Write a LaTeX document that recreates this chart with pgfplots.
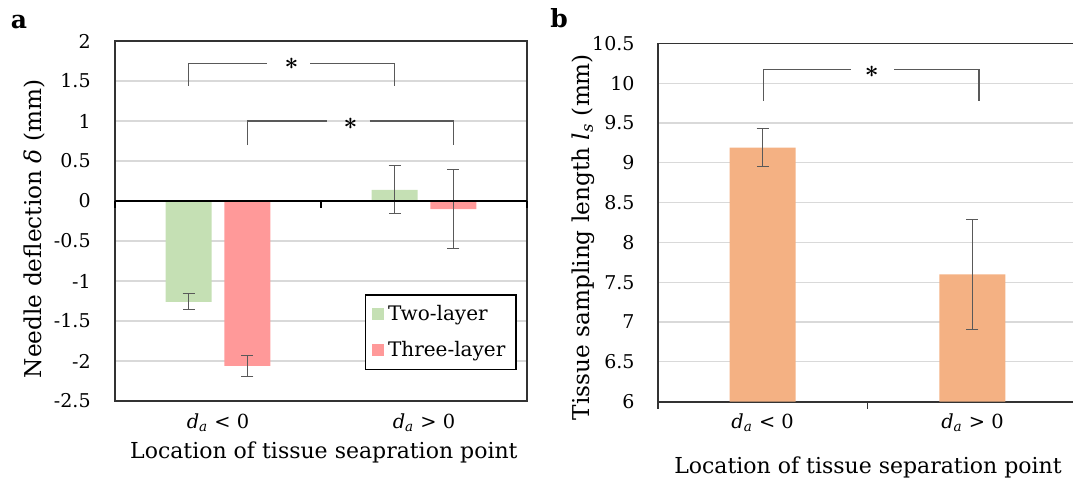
\documentclass[border=0pt]{standalone}
\usepackage{pgfplots}
\pgfplotsset{compat=1.18}
\usepackage{fontspec}
\setmainfont{DejaVu Serif}
\definecolor{gbar}{HTML}{C5E0B4}
\definecolor{rbar}{HTML}{FF9999}
\definecolor{obar}{HTML}{F4B183}
\definecolor{errc}{HTML}{595959}
\definecolor{gridc}{HTML}{D9D9D9}
\definecolor{framec}{HTML}{333333}
\newcommand{\dsub}{\textit{d}\textsubscript{\textit{a}}}
\newcommand{\sigstar}{{\boldmath$\ast$}}
\pgfplotsset{
  myaxis/.style={
    scale only axis,
    anchor=south west,
    xmin=-0.5, xmax=1.5,
    xtick={0,1},
    xticklabels={{\dsub{} < 0},{\dsub{} > 0}},
    x tick label style={anchor=base, inner sep=0pt, yshift=-13.5pt, font=\fontsize{9.7}{11}\selectfont},
    major x tick style={draw=none},
    major y tick style={draw=none},
    ymajorgrids, grid style={gridc, line width=0.6pt},
    y tick label style={anchor=east, inner sep=0pt, font=\fontsize{9.5}{11}\selectfont},
    axis line style={framec, line width=0.8pt},
    xlabel style={font=\fontsize{11}{13}\selectfont},
    ylabel style={font=\fontsize{11.6}{13}\selectfont},
    clip=false,
  },
  myerr/.style={
    error bars/.cd, y dir=both, y explicit,
    error bar style={errc, line width=0.55pt},
    error mark options={errc, line width=0.55pt, mark size=3pt, rotate=90},
  },
}
\begin{document}
\begin{tikzpicture}
% ---------------- panel a ----------------
\begin{axis}[myaxis,
  at={(57.5pt,41.5pt)}, width=206pt, height=180pt,
  ymin=-2.5, ymax=2,
  ytick={-2.5,-2,-1.5,-1,-0.5,0,0.5,1,1.5,2},
  yticklabels={-2.5,-2,-1.5,-1,-0.5,0,0.5,1,1.5,2},
  y tick label style={xshift=-12pt},
  ylabel={Needle deflection \textit{δ} (mm)},
  ylabel style={at={(axis description cs:-0.195,0.478)}, anchor=center},
  xlabel={Location of tissue seapration point},
  xlabel style={at={(axis description cs:0.507,-0.159)}, anchor=base},
  legend style={at={(axis description cs:0.606,0.2964)}, anchor=north west,
    draw=black, line width=0.8pt, font=\fontsize{10}{12}\selectfont,
    inner xsep=3.3pt, inner ysep=3pt, row sep=5pt},
  legend cell align=left,
  legend image code/.code={\fill[#1, draw=none] (0pt,-3pt) rectangle (6pt,3pt);},
]
\addplot[ybar, bar width=0.2233, bar shift=0pt, fill=gbar, draw=none, myerr]
  coordinates {(-0.143,-1.26) +- (0,0.10) (0.857,0.14) +- (0,0.30)};
\addlegendentry{Two-layer}
\addplot[ybar, bar width=0.2233, bar shift=0pt, fill=rbar, draw=none, myerr]
  coordinates {(0.143,-2.06) +- (0,0.13) (1.143,-0.10) +- (0,0.49)};
\addlegendentry{Three-layer}
% zero line and category ticks
\draw[black, line width=0.8pt] (axis cs:-0.5,0) -- (axis cs:1.5,0);
\draw[black, line width=0.8pt] (axis cs:-0.5,0) -- ([yshift=-3.5pt]axis cs:-0.5,0);
\draw[black, line width=0.8pt] (axis cs:0.5,0) -- ([yshift=-3.5pt]axis cs:0.5,0);
\draw[black, line width=0.8pt] (axis cs:1.5,0) -- ([yshift=-3.5pt]axis cs:1.5,0);
% significance brackets
\draw[errc, line width=0.7pt] (axis cs:-0.143,1.44) -- (axis cs:-0.143,1.72) -- (axis cs:0.238,1.72);
\draw[errc, line width=0.7pt] (axis cs:0.447,1.72) -- (axis cs:0.857,1.72) -- (axis cs:0.857,1.44);
\node[inner sep=0pt, font=\fontsize{13}{13}\selectfont] at (axis cs:0.357,1.715) {\sigstar};
\draw[errc, line width=0.7pt] (axis cs:0.143,0.70) -- (axis cs:0.143,1.0) -- (axis cs:0.529,1.0);
\draw[errc, line width=0.7pt] (axis cs:0.736,1.0) -- (axis cs:1.143,1.0) -- (axis cs:1.143,0.70);
\node[inner sep=0pt, font=\fontsize{13}{13}\selectfont] at (axis cs:0.643,0.97) {\sigstar};
\end{axis}
% ---------------- panel b ----------------
\begin{axis}[myaxis,
  at={(328.85pt,41.15pt)}, width=209.85pt, height=179.2pt,
  axis x line*=bottom, axis y line*=left,
  ymin=6, ymax=10.5,
  ytick={6,6.5,7,7.5,8,8.5,9,9.5,10,10.5},
  yticklabels={6,6.5,7,7.5,8,8.5,9,9.5,10,10.5},
  y tick label style={xshift=-11.4pt},
  extra x ticks={-0.5,0.5,1.5}, extra x tick labels={},
  extra x tick style={major tick length=3.5pt, tick align=outside, grid=none,
     major x tick style={draw=framec, line width=0.8pt}},
  ylabel={Tissue sampling length \textit{l}\textsubscript{\textit{s}} (mm)},
  ylabel style={at={(axis description cs:-0.178,0.4595)}, anchor=center},
  xlabel={Location of tissue separation point},
  xlabel style={at={(axis description cs:0.501,-0.2017)}, anchor=base},
]
\addplot[ybar, bar width=0.3145, bar shift=0pt, fill=obar, draw=none, myerr]
  coordinates {(0,9.19) +- (0,0.24) (1,7.60) +- (0,0.69)};
\draw[framec, line width=0.8pt] (rel axis cs:0,0) -- (rel axis cs:0,1) -- (rel axis cs:1,1);
\draw[errc, line width=0.7pt] (axis cs:0.003,9.78) -- (axis cs:0.003,10.17) -- (axis cs:0.42,10.17);
\draw[errc, line width=0.7pt] (axis cs:0.627,10.17) -- (axis cs:1.031,10.17) -- (axis cs:1.031,9.78);
\node[inner sep=0pt, font=\fontsize{13}{13}\selectfont] at (axis cs:0.52,10.145) {\sigstar};
\end{axis}
% panel letters
\node[anchor=base, inner sep=0pt, font=\bfseries\fontsize{12.5}{14}\selectfont] at (9.5pt,227.85pt) {a};
\node[anchor=base west, inner sep=0pt, font=\bfseries\fontsize{12.5}{14}\selectfont] at (275pt,228.4pt) {b};
\pgfresetboundingbox
\path[use as bounding box] (0,0) rectangle (536.5pt,242pt);
\end{tikzpicture}
\end{document}
